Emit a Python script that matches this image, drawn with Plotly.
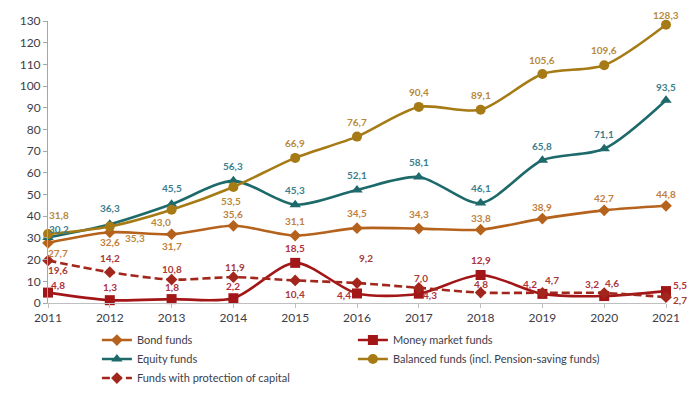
import plotly.graph_objects as go

years = [2011, 2012, 2013, 2014, 2015, 2016, 2017, 2018, 2019, 2020, 2021]
bond_funds = [27.7, 32.6, 31.7, 35.6, 31.1, 34.5, 34.3, 33.8, 38.9, 42.7, 44.8]
money_market_funds = [4.8, 1.3, 1.8, 2.2, 18.5, 4.4, 4.3, 12.9, 4.2, 3.2, 5.5]
equity_funds = [30.2, 36.3, 45.5, 56.3, 45.3, 52.1, 58.1, 46.1, 65.8, 71.1, 93.5]
balanced_funds = [31.8, 35.3, 43.0, 53.5, 66.9, 76.7, 90.4, 89.1, 105.6, 109.6, 128.3]
protection_funds = [19.6, 14.2, 10.8, 11.9, 10.4, 9.2, 7.0, 4.8, 4.7, 4.6, 2.7]

series_names = [
    "Bond funds",
    "Money market funds",
    "Equity funds",
    "Balanced funds (incl. Pension-saving funds)",
    "Funds with protection of capital",
]
series_values = [bond_funds, money_market_funds, equity_funds, balanced_funds, protection_funds]

# styles
line_colors = ["#B5621D", "#A31618", "#1E6A6A", "#A67A14", "#A2261C"]
label_colors = ["#C0803E", "#B03040", "#3A7E8E", "#B8893A", "#A83A36"]
symbols = ["diamond", "square", "triangle-up", "circle", "diamond"]
marker_sizes = [9, 10, 10, 10, 9]
dashes = ["solid", "solid", "solid", "solid", "8px,4px"]

# label offsets in screen px (dx right, dy down)
label_offsets = [
    [(10, 10), (0, 10), (0, 12), (0, -12), (0, -15), (0, -15), (0, -15), (0, -12), (0, -12), (0, -12), (0, -12)],
    [(10, -8), (0, -13), (0, -12), (0, -12), (0, -15), (-13, 2), (11, 1), (0, -15), (-12, -10), (-12, -12), (14, -6)],
    [(11, -8), (0, -16), (0, -16), (0, -15), (0, -15), (0, -15), (0, -15), (0, -15), (0, -14), (0, -15), (0, -13)],
    [(11, -19), (25, 12), (-11, 12), (-2, 14), (0, -15), (0, -15), (0, -15), (0, -15), (0, -14), (0, -15), (0, -10)],
    [(10, 10), (0, -14), (0, -11), (2, -10), (0, 14), (9, -25), (2, -10), (0, -9), (10, -13), (8, -10), (14, 3)],
]

FONT = "Lato, 'Open Sans', sans-serif"

fig = go.Figure()
annotations = []
for k, (name, vals) in enumerate(zip(series_names, series_values)):
    fig.add_trace(go.Scatter(
        x=years, y=vals, name=name, mode="lines+markers",
        line=dict(color=line_colors[k], width=2.6, shape="spline", smoothing=0.8, dash=dashes[k]),
        marker=dict(symbol=symbols[k], size=marker_sizes[k], color=line_colors[k]),
        cliponaxis=False,
    ))
    for i, (yr, v) in enumerate(zip(years, vals)):
        dx, dy = label_offsets[k][i]
        annotations.append(dict(
            x=yr, y=v, xref="x", yref="y", showarrow=False,
            text="<b>" + f"{v:.1f}".replace(".", ",") + "</b>",
            font=dict(family=FONT, size=10, color=label_colors[k]),
            xshift=dx, yshift=-dy, xanchor="center", yanchor="middle",
        ))

fig.update_layout(
    width=700, height=393,
    margin=dict(l=40, r=42, t=13, b=98, autoexpand=False),
    paper_bgcolor="white", plot_bgcolor="white",
    font=dict(family=FONT, size=11, color="#3D3D4A"),
    showlegend=True,
    legend=dict(
        orientation="h", xref="container", yref="container",
        x=0.127, xanchor="left", y=0.192, yanchor="top",
        entrywidth=211, font=dict(family=FONT, size=11, color="#3D3D4A"),
        traceorder="normal", bgcolor="rgba(0,0,0,0)",
    ),
    annotations=annotations,
)
fig.update_xaxes(
    range=[2011, 2021], tickvals=years, ticktext=[str(y) for y in years],
    showline=True, linecolor="#BFBFBF", linewidth=1,
    ticks="outside", ticklen=4, tickcolor="#BFBFBF",
    showgrid=False, zeroline=False,
    tickfont=dict(family=FONT, size=12, color="#3D3D4A"),
)
fig.update_yaxes(
    range=[0, 130], dtick=10,
    showline=True, linecolor="#A6A6A6", linewidth=1,
    ticks="outside", ticklen=4, tickcolor="#A6A6A6",
    showgrid=False, zeroline=False,
    tickfont=dict(family=FONT, size=12, color="#3D3D4A"),
)

fig.write_html("out.html")
